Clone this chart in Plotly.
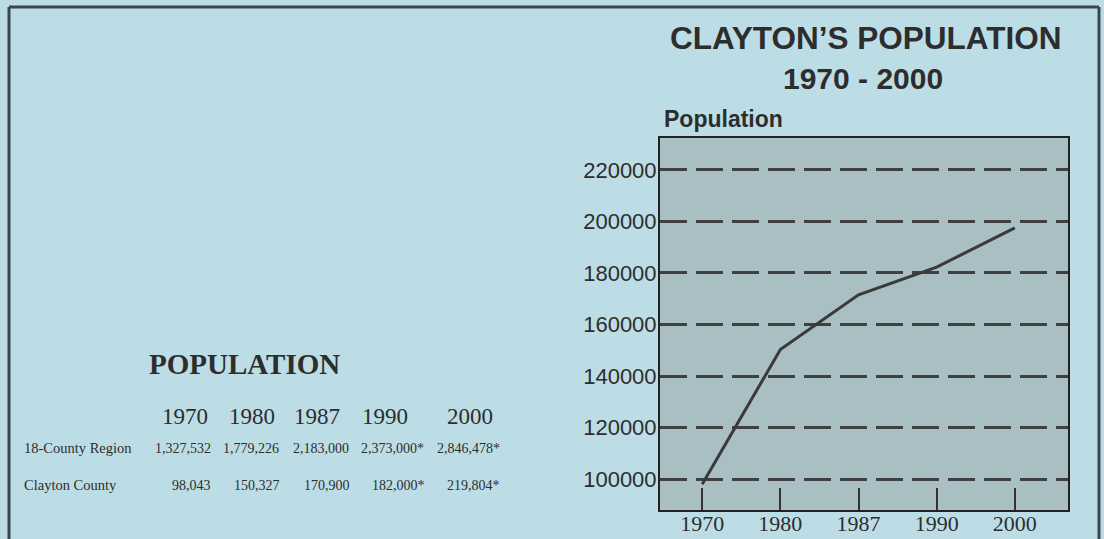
import plotly.graph_objects as go

# ---- data ----
years = ["1970", "1980", "1987", "1990", "2000"]
chart_population = [98000, 150300, 171500, 182300, 197500]
region_label = "18-County Region"
clayton_label = "Clayton County"
region_values = ["1,327,532", "1,779,226", "2,183,000", "2,373,000*", "2,846,478*"]
clayton_values = ["98,043", "150,327", "170,900", "182,000*", "219,804*"]
y_ticks = [100000, 120000, 140000, 160000, 180000, 200000, 220000]

W, H = 1104, 539
L, R, T, B = 660, 1068, 138, 510  # plot area in pixels

def px(x):
    return (x - L) / (R - L)

def py(y):
    return (B - y) / (B - T)

TEXT = "#2d2d2d"
SANS = "Liberation Sans, Arial, sans-serif"
SERIF = "Liberation Serif, Times New Roman, serif"
BG = "#bddde6"
FRAME = "#3b474c"

fig = go.Figure()
fig.add_trace(go.Scatter(
    x=years, y=chart_population, mode="lines",
    line=dict(color="#3a3a3a", width=3), hoverinfo="skip", showlegend=False,
))

annotations = []

def ann(text, x, y, size, family, xanchor="center", bold=False, color=TEXT):
    annotations.append(dict(
        text=f"<b>{text}</b>" if bold else text,
        x=px(x), y=py(y), xref="paper", yref="paper",
        xanchor=xanchor, yanchor="middle", showarrow=False,
        font=dict(size=size, family=family, color=color),
    ))

# chart titles
ann("CLAYTON\u2019S POPULATION", 865, 38, 31.5, SANS, bold=True)
ann("1970 - 2000", 863, 79, 30, SANS, bold=True)
ann("Population", 662, 119, 23, SANS, xanchor="left", bold=True)

# left-side table
ann("POPULATION", 244, 364, 29, SERIF, bold=True)
year_centers = [185, 252, 317, 385, 470]
for yr, cx in zip(years, year_centers):
    ann(yr, cx, 416, 23, SERIF)
ann(region_label, 22, 448, 14.5, SERIF, xanchor="left")
ann(clayton_label, 22, 485, 14.5, SERIF, xanchor="left")
right_edges_1 = [213, 281, 351, 426, 502]
right_edges_2 = [213, 282, 352, 427, 502]
for v, rx in zip(region_values, right_edges_1):
    ann(v, rx, 448, 14, SERIF, xanchor="right")
for v, rx in zip(clayton_values, right_edges_2):
    ann(v, rx, 485, 14, SERIF, xanchor="right")

def frame_line(x0, y0, x1, y1):
    return dict(type="line", xref="paper", yref="paper",
                x0=px(x0), y0=py(y0), x1=px(x1), y1=py(y1),
                line=dict(color=FRAME, width=3), layer="below")

shapes = [
    frame_line(9, 7, 1099, 7),
    frame_line(9, 7, 9, 545),
    frame_line(1099, 7, 1099, 545),
]

fig.update_layout(
    width=W, height=H, autosize=False,
    margin=dict(l=L, r=W - R, t=T, b=H - B, pad=0),
    paper_bgcolor=BG,
    plot_bgcolor="#aabfc4",
    showlegend=False,
    annotations=annotations,
    shapes=shapes,
    xaxis=dict(
        type="category", categoryorder="array", categoryarray=years,
        range=[-0.54, 4.68], showgrid=False, zeroline=False, automargin=False,
        showline=True, mirror=True, linecolor="#222222", linewidth=2,
        ticks="inside", ticklen=22, tickwidth=2, tickcolor="#333333",
        ticklabelstandoff=-7,
        tickfont=dict(family=SERIF, size=22, color=TEXT),
    ),
    yaxis=dict(
        range=[88000, 232400], tickvals=y_ticks, automargin=False,
        ticktext=[str(v) for v in y_ticks],
        showgrid=True, gridcolor="#404040", gridwidth=3, griddash="27px,9px",
        zeroline=False, showline=True, mirror=True, linecolor="#222222", linewidth=2,
        ticks="", ticklabelstandoff=-3,
        tickfont=dict(family=SANS, size=22, color=TEXT),
    ),
)

fig.write_html(
    "out.html",
    config={"displayModeBar": False},
    post_script=f"document.body.style.margin='0';document.body.style.background='{BG}';",
)
